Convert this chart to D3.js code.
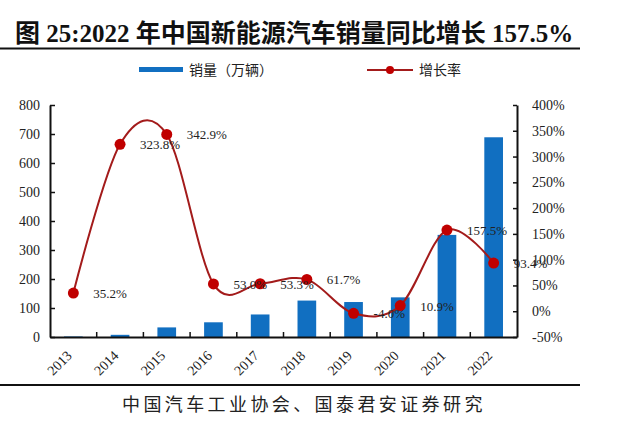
<!DOCTYPE html>
<html><head><meta charset="utf-8">
<script src="https://cdn.jsdelivr.net/npm/d3@7"></script>
<style>
html,body{margin:0;padding:0;background:#fff;}
svg{display:block;}
</style>
</head><body>
<svg id="chart" width="640" height="442"></svg>
<script>
const years = ["2013","2014","2015","2016","2017","2018","2019","2020","2021","2022"];
const sales = [1.8, 7.5, 33.1, 50.7, 77.7, 125.6, 120.6, 136.7, 352.1, 688.7];
const growth = [35.2, 323.8, 342.9, 53.0, 53.3, 61.7, -4.0, 10.9, 157.5, 93.4];
const leftTicks = [0,100,200,300,400,500,600,700,800];
const rightTicks = [-50,0,50,100,150,200,250,300,350,400];
const titleText = "图 25:2022 年中国新能源汽车销量同比增长 157.5%";
const legendBar = "销量（万辆）";
const legendLine = "增长率";
const sourceText = "中国汽车工业协会、国泰君安证券研究";

const svg = d3.select("#chart");
const W = 640, H = 442;
const m = {left:50, right:517, top:105, bottom:337};
const serif = "'Liberation Serif','Times New Roman',serif";
const cjk = "'Noto Sans CJK SC','Noto Sans',sans-serif";

const x = d3.scaleBand().domain(years).range([m.left, m.right]).paddingInner(0.6).paddingOuter(0.3);
const yL = d3.scaleLinear().domain([0,800]).range([m.bottom, m.top]);
const yR = d3.scaleLinear().domain([-50,400]).range([m.bottom, m.top]);

// Title
svg.append("text").attr("x",15).attr("y",42)
  .style("font-family", serif + "," + cjk).style("font-weight","bold").style("font-size","25px")
  .attr("fill","#111").text(titleText);
svg.append("line").attr("x1",0).attr("x2",580).attr("y1",48.5).attr("y2",48.5)
  .attr("stroke","#111").attr("stroke-width",2);

// Legend
svg.append("rect").attr("x",139).attr("y",67).attr("width",44).attr("height",5).attr("fill","#116fc1");
svg.append("text").attr("x",189).attr("y",75).style("font-family",cjk).style("font-size","14px")
  .attr("fill","#222").text(legendBar);
svg.append("line").attr("x1",367).attr("x2",413).attr("y1",70).attr("y2",70)
  .attr("stroke","#a31b1b").attr("stroke-width",2);
svg.append("circle").attr("cx",390).attr("cy",70).attr("r",4).attr("fill","#c00000");
svg.append("text").attr("x",419).attr("y",75).style("font-family",cjk).style("font-size","14px")
  .attr("fill","#222").text(legendLine);

// Bars
svg.append("g").selectAll("rect").data(years).join("rect")
  .attr("x", d => x(d)).attr("width", x.bandwidth())
  .attr("y", (d,i) => yL(sales[i])).attr("height", (d,i) => yL(0) - yL(sales[i]))
  .attr("fill","#116fc1");

// Left axis
const gL = svg.append("g").attr("transform",`translate(${m.left},0)`)
  .call(d3.axisLeft(yL).tickValues(leftTicks).tickSizeInner(-5).tickSizeOuter(0).tickPadding(10));
gL.select(".domain").attr("stroke","#111").attr("stroke-width",2);
gL.selectAll(".tick line").attr("stroke","#111").attr("stroke-width",1.5);
gL.selectAll("text").style("font-family",serif).style("font-size","14px").attr("fill","#222");

// Right axis
const gR = svg.append("g").attr("transform",`translate(${m.right},0)`)
  .call(d3.axisRight(yR).tickValues(rightTicks).tickFormat(d => d + "%").tickSizeInner(-4).tickSizeOuter(0).tickPadding(15));
gR.select(".domain").attr("stroke","#111").attr("stroke-width",2);
gR.selectAll(".tick line").attr("stroke","#111").attr("stroke-width",1.5);
gR.selectAll("text").style("font-family",serif).style("font-size","14px").attr("fill","#222");

// Bottom axis
const gB = svg.append("g").attr("transform",`translate(0,${yL(0)})`)
  .call(d3.axisBottom(x).tickSize(0).tickSizeOuter(0));
gB.select(".domain").attr("stroke","#111").attr("stroke-width",2);
gB.selectAll("text").attr("x",0).attr("y",0).attr("dy","0.35em")
  .attr("transform","translate(-4,16) rotate(-45)").style("text-anchor","end")
  .style("font-family",serif).style("font-size","14px").attr("fill","#222");
// category separator ticks (inward)
const bounds = years.slice(1).map(d => x(d) - x.step()*x.paddingInner()/2);
svg.append("g").selectAll("line").data(bounds).join("line")
  .attr("x1", d => d).attr("x2", d => d).attr("y1", yL(0)).attr("y2", yL(0) - 5)
  .attr("stroke","#111").attr("stroke-width",1.5);

// Growth line
const cx = (d) => x(d) + x.bandwidth()/2;
const line = d3.line().x((d,i) => cx(years[i])).y(d => yR(d)).curve(d3.curveCardinal.tension(0));
svg.append("path").datum(growth).attr("d", line).attr("fill","none")
  .attr("stroke","#a31b1b").attr("stroke-width",2);
svg.append("g").selectAll("circle").data(growth).join("circle")
  .attr("cx",(d,i) => cx(years[i])).attr("cy", d => yR(d)).attr("r",5.5).attr("fill","#c00000");

// Data labels
svg.append("g").selectAll("text").data(growth).join("text")
  .attr("x",(d,i) => cx(years[i]) + 20).attr("y", d => yR(d) + 5)
  .style("font-family",serif).style("font-size","13px").attr("fill","#222")
  .text(d => d.toFixed(1) + "%");

// Source
svg.append("line").attr("x1",0).attr("x2",580).attr("y1",385).attr("y2",385)
  .attr("stroke","#111").attr("stroke-width",2);
svg.append("text").attr("x",122).attr("y",411).style("font-family",cjk).style("font-size","18px")
  .style("letter-spacing","3.4px").attr("fill","#222").text(sourceText);
</script>
</body></html>
